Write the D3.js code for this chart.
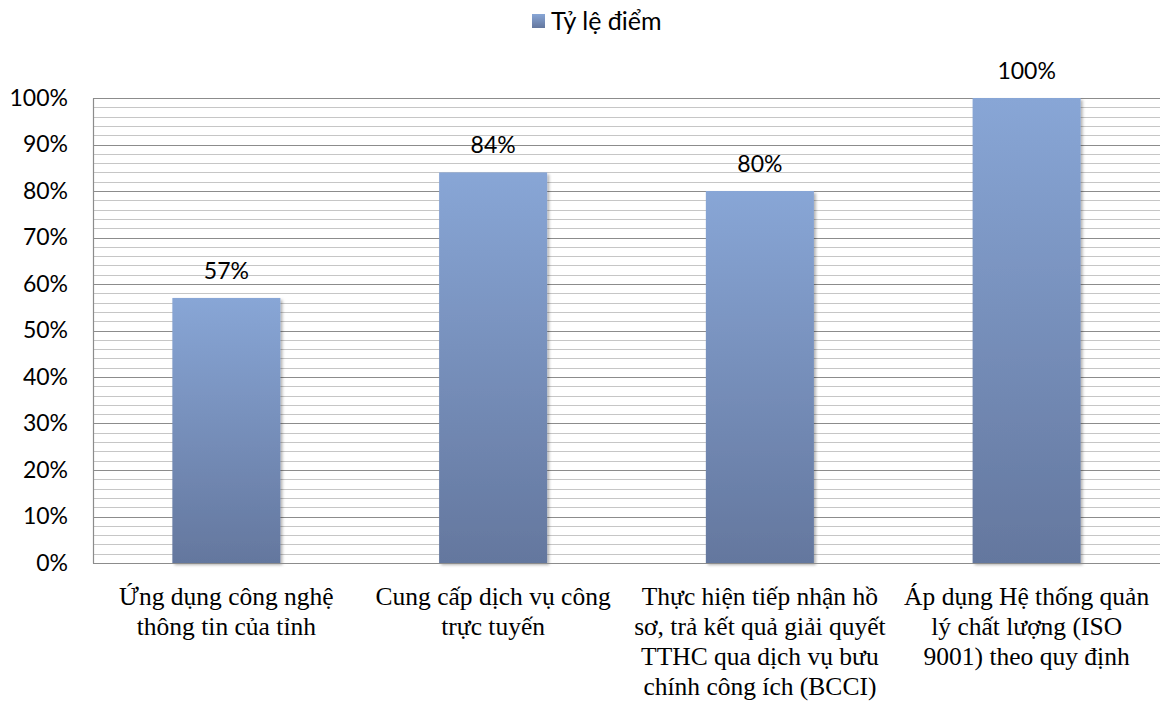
<!DOCTYPE html>
<html>
<head>
<meta charset="utf-8">
<script src="https://cdn.jsdelivr.net/npm/d3@7"></script>
<style>
  html, body { margin: 0; padding: 0; background: #ffffff; }
  svg { display: block; }
</style>
</head>
<body>
<svg id="chart" width="1167" height="705"></svg>
<script>
// Chart data
const categories = [
  "Ứng dụng công nghệ thông tin của tỉnh",
  "Cung cấp dịch vụ công trực tuyến",
  "Thực hiện tiếp nhận hồ sơ, trả kết quả giải quyết TTHC qua dịch vụ bưu chính công ích (BCCI)",
  "Áp dụng Hệ thống quản lý chất lượng (ISO 9001) theo quy định"
];
const categoryLines = [
  ["Ứng dụng công nghệ", "thông tin của tỉnh"],
  ["Cung cấp dịch vụ công", "trực tuyến"],
  ["Thực hiện tiếp nhận hồ", "sơ, trả kết quả giải quyết", "TTHC qua dịch vụ bưu", "chính công ích (BCCI)"],
  ["Áp dụng Hệ thống quản", "lý chất lượng (ISO", "9001) theo quy định"]
];
const values = [0.57, 0.84, 0.80, 1.00];
const seriesName = "Tỷ lệ điểm";
const yTicks = [0, 0.1, 0.2, 0.3, 0.4, 0.5, 0.6, 0.7, 0.8, 0.9, 1.0];

const svg = d3.select("#chart");
const plot = { left: 93, right: 1160, top: 98, bottom: 563 };
const sansFont = "Lato, 'Open Sans', sans-serif";

const x = d3.scaleBand()
  .domain(categories)
  .range([plot.left, plot.right])
  .paddingInner(0.595)
  .paddingOuter(0.2975);

const y = d3.scaleLinear().domain([0, 1]).range([plot.bottom, plot.top]);

// Gradient and shadow for the bars
const defs = svg.append("defs");
const grad = defs.append("linearGradient")
  .attr("id", "barFill").attr("x1", 0).attr("y1", 0).attr("x2", 0).attr("y2", 1);
grad.append("stop").attr("offset", "0%").attr("stop-color", "#88a6d6");
grad.append("stop").attr("offset", "100%").attr("stop-color", "#64779e");

const shadow = defs.append("filter").attr("id", "barShadow")
  .attr("x", "-10%").attr("y", "-10%").attr("width", "130%").attr("height", "130%");
shadow.append("feDropShadow").attr("dx", 2).attr("dy", 2).attr("stdDeviation", 1.5)
  .attr("flood-color", "#000").attr("flood-opacity", 0.3);

// Minor gridlines every 2%
const minorTicks = d3.range(0, 51).map(i => i / 50).filter(v => Math.round(v * 50) % 5 !== 0);
svg.append("g").selectAll("line").data(minorTicks).join("line")
  .attr("x1", plot.left).attr("x2", plot.right)
  .attr("y1", d => Math.round(y(d)) + 0.5).attr("y2", d => Math.round(y(d)) + 0.5)
  .attr("stroke", "#c6c6c6").attr("stroke-width", 1);

// Major gridlines every 10%
svg.append("g").selectAll("line").data(yTicks).join("line")
  .attr("x1", plot.left).attr("x2", plot.right)
  .attr("y1", d => Math.round(y(d)) + 0.5).attr("y2", d => Math.round(y(d)) + 0.5)
  .attr("stroke", "#8c8c8c").attr("stroke-width", 1.2);

// Y axis
const yAxis = svg.append("g")
  .attr("transform", `translate(${plot.left},0)`)
  .call(d3.axisLeft(y).tickValues(yTicks).tickFormat(d3.format(".0%")).tickSize(0).tickPadding(25));
yAxis.select(".domain").attr("stroke", "#8c8c8c").attr("stroke-width", 1.2);
yAxis.selectAll("text")
  .attr("font-family", sansFont)
  .attr("font-size", 23).attr("fill", "#000");

// Bars
svg.append("g").selectAll("rect").data(values).join("rect")
  .attr("x", (d, i) => x(categories[i]))
  .attr("width", x.bandwidth())
  .attr("y", d => y(d))
  .attr("height", d => y(0) - y(d))
  .attr("fill", "url(#barFill)")
  .attr("filter", "url(#barShadow)");

// X axis baseline
svg.append("line")
  .attr("x1", plot.left).attr("x2", plot.right)
  .attr("y1", plot.bottom + 0.5).attr("y2", plot.bottom + 0.5)
  .attr("stroke", "#8c8c8c").attr("stroke-width", 1.2);

// Value labels
svg.append("g").selectAll("text").data(values).join("text")
  .attr("x", (d, i) => x(categories[i]) + x.bandwidth() / 2)
  .attr("y", d => y(d) - 19)
  .attr("text-anchor", "middle")
  .attr("font-family", sansFont)
  .attr("font-size", 23).attr("fill", "#000")
  .text(d => d3.format(".0%")(d));

// Category labels
const xl = svg.append("g").selectAll("text").data(categories).join("text")
  .attr("x", d => x(d) + x.bandwidth() / 2)
  .attr("y", 605)
  .attr("text-anchor", "middle")
  .attr("font-family", "'Liberation Serif', 'Times New Roman', serif")
  .attr("font-size", 25.5).attr("fill", "#000");
xl.each(function(d, i) {
  d3.select(this).selectAll("tspan").data(categoryLines[i]).join("tspan")
    .attr("x", x(d) + x.bandwidth() / 2)
    .attr("dy", (t, j) => j === 0 ? 0 : 30)
    .text(t => t);
});

// Legend
const legend = svg.append("g").attr("transform", "translate(532,14)");
legend.append("rect").attr("width", 13).attr("height", 14).attr("fill", "url(#barFill)");
legend.append("text").attr("x", 19).attr("y", 16)
  .attr("font-family", sansFont)
  .attr("font-size", 25).attr("fill", "#000")
  .text(seriesName);
</script>
</body>
</html>
